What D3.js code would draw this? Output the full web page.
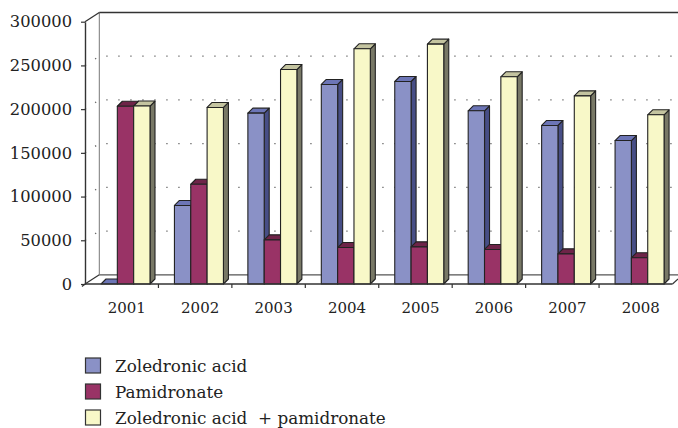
<!DOCTYPE html>
<html><head><meta charset="utf-8">
<script src="https://cdn.jsdelivr.net/npm/d3@7"></script>
<style>
html,body{margin:0;padding:0;background:#fff;}
svg{display:block;}
</style></head>
<body>
<svg id="chart" width="678" height="428"></svg>
<script>
const years = ["2001","2002","2003","2004","2005","2006","2007","2008"];
const seriesNames = ["Zoledronic acid","Pamidronate","Zoledronic acid  + pamidronate"];
const zoledronic = [0, 89800, 195400, 228200, 231600, 198100, 181300, 164100];
const pamidronate = [203300, 114100, 50500, 41700, 42500, 39500, 34500, 30000];
const combined = [203500, 201900, 245300, 269000, 274300, 237000, 215200, 193500];
const yTicks = [0, 50000, 100000, 150000, 200000, 250000, 300000];

const FONT = "'DejaVu Serif'";
const seriesValues = [zoledronic, pamidronate, combined];
const colors = [
  {front:"#8a91c6", side:"#474e86", top:"#6c75b6"},
  {front:"#993366", side:"#5c1f40", top:"#6e2448"},
  {front:"#f8f8c8", side:"#787866", top:"#c4c4a0"}
];

const svg = d3.select("#chart");
const pLeft = 85, pRight = 672.5, pBottom = 284, pTop = 21.7;
const dX = 14.3, dY = -9.2;
const bX = 5, bY = -5;

const y = d3.scaleLinear().domain([0, 300000]).range([pBottom, pTop]);
const x0 = d3.scaleBand().domain(years).range([pLeft, pRight]).padding(0);
const x1 = d3.scaleBand().domain(d3.range(3)).range([16, 65]).padding(0);

const g = svg.append("g");
g.append("line").attr("x1", pLeft+dX).attr("y1", pBottom+dY).attr("x2", 678).attr("y2", pBottom+dY)
  .attr("stroke", "#555").attr("stroke-width", 1.2);
g.append("line").attr("x1", pLeft+dX).attr("y1", pTop+dY).attr("x2", pLeft+dX).attr("y2", pBottom+dY)
  .attr("stroke", "#777").attr("stroke-width", 1);
g.append("line").attr("x1", pLeft).attr("y1", pTop).attr("x2", pLeft+dX).attr("y2", pTop+dY)
  .attr("stroke", "#333").attr("stroke-width", 1.3);
g.append("line").attr("x1", pLeft+dX).attr("y1", pTop+dY).attr("x2", 678).attr("y2", pTop+dY)
  .attr("stroke", "#333").attr("stroke-width", 1.3);

yTicks.filter(t => t > 0 && t < 300000).forEach(t => {
  g.append("path")
    .attr("d", `M${pLeft},${y(t)} L${pLeft+dX},${y(t)+dY} L678,${y(t)+dY}`)
    .attr("fill", "none").attr("stroke", "#666").attr("stroke-width", 1.3)
    .attr("stroke-dasharray", "1.3,10.7");
});

g.append("line").attr("x1", pLeft).attr("y1", pBottom).attr("x2", pLeft+dX).attr("y2", pBottom+dY)
  .attr("stroke", "#333").attr("stroke-width", 1.2);
g.append("line").attr("x1", pRight).attr("y1", pBottom).attr("x2", 678).attr("y2", pBottom+dY*0.55)
  .attr("stroke", "#333").attr("stroke-width", 1.2);

const bars = svg.append("g");
years.forEach((yr, i) => {
  seriesValues.forEach((vals, s) => {
    const v = vals[i];
    const xl = x0(yr) + x1(s), w = x1.bandwidth();
    const yt = y(v), yb = y(0);
    const c = colors[s];
    const bg = bars.append("g").attr("stroke", "#222").attr("stroke-width", 1.1).attr("stroke-linejoin", "round");
    if (yb - yt > 0.5) {
      bg.append("path").attr("d", `M${xl+w},${yb} L${xl+w+bX},${yb+bY} L${xl+w+bX},${yt+bY} L${xl+w},${yt} Z`).attr("fill", c.side);
    }
    bg.append("path").attr("d", `M${xl},${yt} L${xl+bX},${yt+bY} L${xl+w+bX},${yt+bY} L${xl+w},${yt} Z`).attr("fill", c.top);
    if (yb - yt > 0.5) {
      bg.append("rect").attr("x", xl).attr("y", yt).attr("width", w).attr("height", yb - yt).attr("fill", c.front);
    }
  });
});

svg.append("line").attr("x1", pLeft).attr("y1", pBottom).attr("x2", pRight).attr("y2", pBottom)
  .attr("stroke", "#333").attr("stroke-width", 1.4);

const yAxis = d3.axisLeft(y).tickValues(yTicks).tickFormat(d => String(d)).tickSize(4).tickPadding(9).tickSizeOuter(0);
const ya = svg.append("g").attr("transform", `translate(${pLeft},0)`).call(yAxis);
ya.attr("font-family", FONT).attr("font-size", 16.3);
ya.select(".domain").attr("stroke", "#333").attr("stroke-width", 1.4);
ya.selectAll(".tick line").attr("stroke", "#333").attr("stroke-width", 1.2);
ya.selectAll(".tick text").attr("fill", "#222");

const xAxis = d3.axisBottom(x0).tickSize(0).tickPadding(0).tickSizeOuter(0);
const xa = svg.append("g").attr("transform", `translate(5,${pBottom})`).call(xAxis);
xa.attr("font-family", FONT).attr("font-size", 15);
xa.select(".domain").remove();
xa.selectAll(".tick text").attr("fill", "#222").attr("dy", null).attr("y", 29);
years.forEach((yr, i) => {
  if (i === 0) return;
  svg.append("line").attr("x1", x0(yr)).attr("y1", pBottom).attr("x2", x0(yr)).attr("y2", pBottom + 4)
    .attr("stroke", "#333").attr("stroke-width", 1.2);
});
svg.append("line").attr("x1", pLeft).attr("y1", pBottom).attr("x2", pLeft-3).attr("y2", pBottom+2.5)
  .attr("stroke", "#333").attr("stroke-width", 1.2);

const lg = svg.append("g").attr("transform", "translate(85,357.5)")
  .attr("font-family", FONT).attr("font-size", 16.8).attr("fill", "#222");
seriesNames.forEach((n, i) => {
  const row = lg.append("g").attr("transform", `translate(0,${i*26})`);
  row.append("rect").attr("x", 0.5).attr("y", 0.5).attr("width", 15).attr("height", 15)
    .attr("fill", colors[i].front).attr("stroke", "#333").attr("stroke-width", 1.2);
  row.append("text").attr("x", 30).attr("y", 14).style("white-space", "pre").text(n);
});
</script>
</body></html>
